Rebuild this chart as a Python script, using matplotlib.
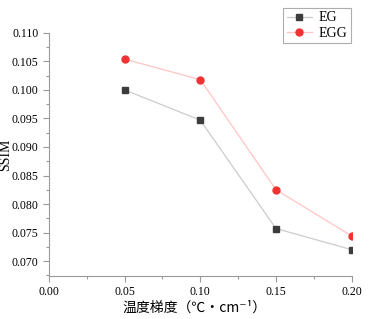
import matplotlib
matplotlib.use("Agg")
import matplotlib.pyplot as plt
from matplotlib.ticker import MultipleLocator, FormatStrFormatter

plt.rcParams['font.family'] = ['Liberation Serif', 'Noto Sans CJK SC', 'DejaVu Sans']

# data
gradient = [0.05, 0.10, 0.15, 0.20]
ssim_eg = [0.1000, 0.0947, 0.0757, 0.0720]
ssim_egg = [0.1054, 0.1018, 0.0825, 0.0744]

fig = plt.figure(figsize=(3.73, 3.19), dpi=100)
ax = fig.add_axes([0.131, 0.135, 0.812, 0.762])

ax.plot(gradient, ssim_eg, color='#cccccc', lw=0.9,
        marker='s', ms=4.5, mfc='#3c3c3c', mec='#3c3c3c', label='EG')
ax.plot(gradient, ssim_egg, color='#ffc4c4', lw=0.9,
        marker='o', ms=5, mfc='#f03232', mec='#f03232', label='EGG')

ax.set_xlim(0, 0.2)
ax.set_ylim(0.0674, 0.110)
ax.xaxis.set_major_locator(MultipleLocator(0.05))
ax.xaxis.set_minor_locator(MultipleLocator(0.025))
ax.yaxis.set_major_locator(MultipleLocator(0.005))
ax.yaxis.set_minor_locator(MultipleLocator(0.0025))
ax.xaxis.set_major_formatter(FormatStrFormatter('%.2f'))
ax.yaxis.set_major_formatter(FormatStrFormatter('%.3f'))

for side in ['top', 'right']:
    ax.spines[side].set_visible(False)
for side in ['left', 'bottom']:
    ax.spines[side].set_color('#999999')
    ax.spines[side].set_linewidth(0.8)

ax.tick_params(which='both', color='#999999', width=0.8, labelsize=8.5)
ax.tick_params(which='major', length=4)
ax.tick_params(which='minor', length=2.5)
ax.tick_params(axis='x', pad=3)

ax.set_xlabel('温度梯度（℃·cm⁻¹）', fontsize=10,
              family=['Noto Sans CJK SC', 'DejaVu Sans'])
ax.xaxis.set_label_coords(0.48, -0.1)
ax.set_ylabel('SSIM', fontsize=10)
ax.yaxis.set_label_coords(-0.12, 0.5)

leg = ax.legend(loc='upper right', bbox_to_anchor=(0.952, 0.988),
                bbox_transform=fig.transFigure, fontsize=10,
                frameon=True, fancybox=False, edgecolor='#999999',
                borderpad=0.25, handlelength=1.8, labelspacing=0.15,
                handletextpad=0.5, borderaxespad=0.3)
leg.get_frame().set_linewidth(0.8)

fig.savefig('out.png', dpi=100)
